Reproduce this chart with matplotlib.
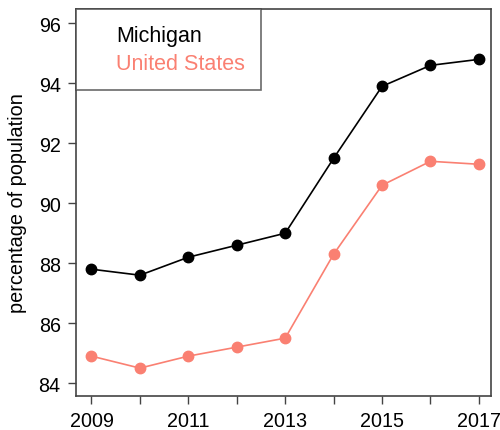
import matplotlib
matplotlib.use('Agg')
import matplotlib.pyplot as plt
from matplotlib.lines import Line2D

years = [2009, 2010, 2011, 2012, 2013, 2014, 2015, 2016, 2017]
michigan = [87.8, 87.6, 88.2, 88.6, 89.0, 91.5, 93.9, 94.6, 94.8]
united_states = [84.9, 84.5, 84.9, 85.2, 85.5, 88.3, 90.6, 91.4, 91.3]
series_names = ['Michigan', 'United States']
series_colors = ['black', '#FA8072']

plt.rcParams['font.family'] = ['Liberation Sans', 'DejaVu Sans']

fig = plt.figure(figsize=(5, 4.31), dpi=100)
ax = fig.add_axes([76/500, 1 - 397/431, (491-76)/500, (397-10)/431])

for vals, c in zip([michigan, united_states], series_colors):
    ax.plot(years, vals, color=c, lw=1.2, marker='o', ms=7.5, mec=c, mfc=c)

ax.set_xlim(2008.68, 2017.25)
ax.set_ylim(83.57, 96.48)
ax.set_xticks(range(2009, 2018))
ax.set_xticklabels([str(y) if (y - 2009) % 2 == 0 else '' for y in years])
ax.set_yticks([84, 86, 88, 90, 92, 94, 96])
ax.tick_params(axis='both', labelsize=14.2, length=6, width=1, color='#444444', pad=5)
for s in ax.spines.values():
    s.set_color('#444444')
    s.set_linewidth(1.2)
ax.set_ylabel('percentage of population', fontsize=14.3, labelpad=8)

handles = [Line2D([], [], color='none') for _ in series_names]
leg = ax.legend(handles, series_names, loc='upper left', borderaxespad=0,
                fontsize=15.5, frameon=True, fancybox=False, edgecolor='#444444',
                handlelength=0.6, handletextpad=0.5, borderpad=0.75, labelspacing=0.3,
                labelcolor=series_colors)
leg.get_frame().set_linewidth(1.2)

fig.savefig('out.png', dpi=100)
